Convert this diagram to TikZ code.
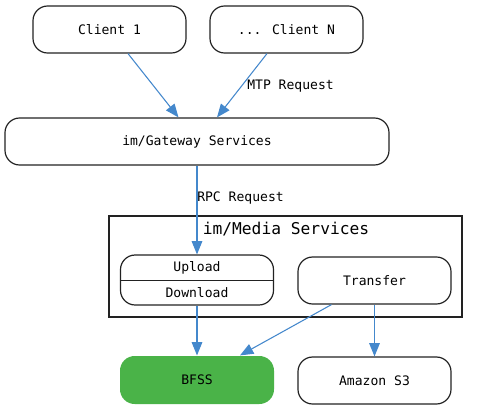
\documentclass[tikz,border=0pt]{standalone}
\usepackage{fontspec}
\setmainfont{DejaVu Sans Mono}
\usetikzlibrary{arrows.meta,calc}
\definecolor{linkblue}{RGB}{68,136,204}
\definecolor{bfssgreen}{RGB}{74,179,72}
\definecolor{edge}{RGB}{34,34,34}
\tikzset{
  svc/.style={draw=edge, line width=0.9pt, rounded corners=11pt, minimum width=114.75pt, minimum height=35.25pt, inner sep=0pt, font=\fontsize{9.8}{11}\selectfont},
  call/.style={draw=linkblue, line width=0.8pt, -{Triangle[length=10pt,width=8pt]}},
  lbl/.style={font=\fontsize{9.8}{11}\selectfont, inner sep=0pt}
}
\begin{document}
\begin{tikzpicture}[x=0.75pt, y=-0.75pt]
\useasboundingbox (0,0) rectangle (479,411);

\node[svc] (c1) at (109.5,29.5) {Client 1};
\node[svc] (cn) at (286.5,29.5) {... Client N};
\node[svc, minimum width=288pt] (gw) at (197,141.5) {im/Gateway Services};

\draw[edge, line width=0.9pt] (109,216) rectangle (462,317);
\node[font=\fontsize{12.2}{14}\selectfont, inner sep=0pt] (media) at (286,229) {im/Media Services};

\node[svc, minimum height=37.5pt] (ud) at (197,280) {};
\draw[edge, line width=0.7pt] (ud.west) -- (ud.east);
\node[lbl] (up) at (197,267.5) {Upload};
\node[lbl] (down) at (197,293) {Download};
\node[svc] (tr) at (374.5,280.5) {Transfer};

\node[svc, draw=none, fill=bfssgreen, minimum width=115.5pt, minimum height=36pt] (bfss) at (197,380) {BFSS};
\node[svc] (s3) at (374.5,380.5) {Amazon S3};

\draw[call] ($(c1.south)+(18.5,0)$) -- ($(gw.north)+(-18.5,0)$);
\draw[call] ($(cn.south)+(-19.5,0)$) -- ($(gw.north)+(20,0)$);
\node[lbl, anchor=west] (mtp) at (247,86) {MTP Request};

\draw[call] (gw.south) -- (ud.north);
\node[lbl, anchor=west] (rpc) at (197,198) {RPC Request};

\draw[call] (ud.south) -- (bfss.north);
\draw[call] ($(tr.south)+(-43,0)$) -- ($(bfss.north)+(43,0)$);
\draw[call] (tr.south) -- (s3.north);

\end{tikzpicture}
\end{document}
